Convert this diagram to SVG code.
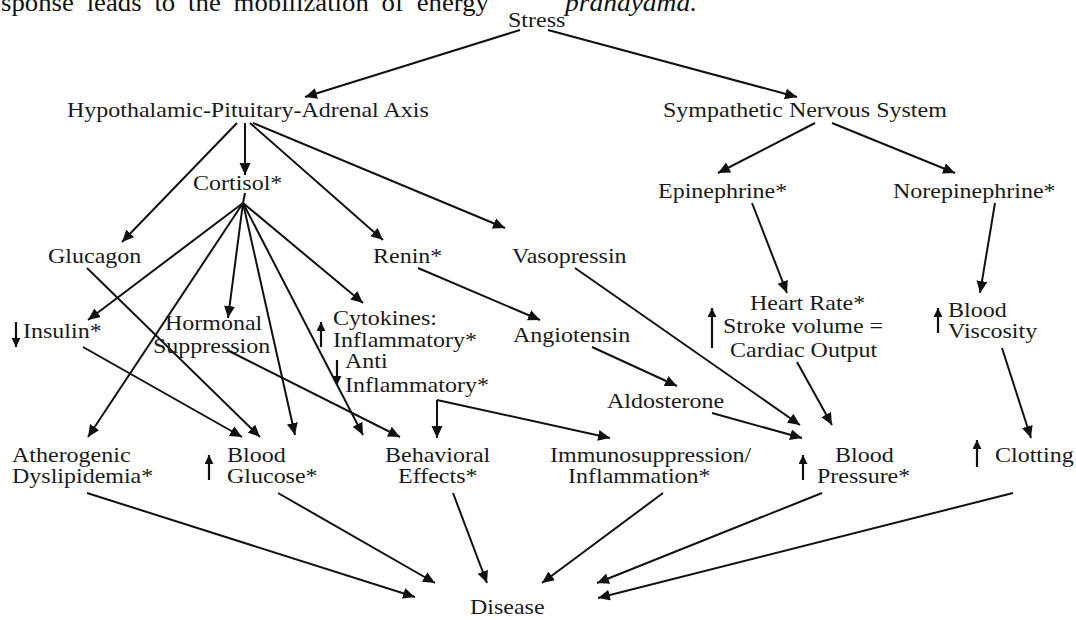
<svg xmlns="http://www.w3.org/2000/svg" width="1076" height="620" viewBox="0 0 1076 620">
<style>
.t{font-family:"Liberation Serif","Times New Roman",serif;font-size:20px;fill:#1a1a1a}
.hdr{font-family:"Liberation Serif","Times New Roman",serif;font-size:26px;fill:#111}
.c{stroke:#111;stroke-width:2;fill:none;marker-end:url(#ah)}
.p{stroke:#111;stroke-width:2;fill:none}
.i{stroke:#111;stroke-width:2.2;fill:none;marker-end:url(#sh)}
</style>
<defs>
<marker id="ah" markerUnits="userSpaceOnUse" markerWidth="13" markerHeight="12" refX="12" refY="5.5" orient="auto"><path d="M0,0 L12,5.5 L0,11 z" fill="#111"/></marker>
<marker id="sh" markerUnits="userSpaceOnUse" markerWidth="10" markerHeight="10" refX="9" refY="4.5" orient="auto"><path d="M0,0 L9,4.5 L0,9 z" fill="#111"/></marker>
</defs>
<rect width="1076" height="620" fill="#fff"/>
<g id="header">
<text class="hdr" x="1" y="11" textLength="488" lengthAdjust="spacingAndGlyphs" word-spacing="6">sponse leads to the mobilization of energy</text>
<text class="hdr" x="565" y="11" font-style="italic" textLength="132" lengthAdjust="spacingAndGlyphs">pranayama.</text>
</g>
<g id="connectors">
<path class="c" d="M520,30 L305,97"/>
<path class="c" d="M548,30 L797,97"/>
<path class="c" d="M237,123 L122,242"/>
<path class="c" d="M245,123 L245,175"/>
<path class="c" d="M250,123 L383,240"/>
<path class="c" d="M253,123 L505,228"/>
<path class="c" d="M815,123 L718,173"/>
<path class="c" d="M832,123 L955,173"/>
<path class="p" d="M245,193 L243,203"/>
<path class="c" d="M243,203 L88,320"/>
<path class="c" d="M243,203 L88,437"/>
<path class="c" d="M243,203 L228,318"/>
<path class="c" d="M243,203 L295,435"/>
<path class="c" d="M243,203 L363,435"/>
<path class="c" d="M243,203 L363,303"/>
<path class="c" d="M87,268 L260,437"/>
<path class="c" d="M83,347 L242,437"/>
<path class="c" d="M227,350 L400,437"/>
<path class="c" d="M418,268 L540,320"/>
<path class="c" d="M575,268 L800,425"/>
<path class="c" d="M592,347 L677,386"/>
<path class="c" d="M712,413 L802,438"/>
<path class="c" d="M752,203 L787,293"/>
<path class="c" d="M995,203 L980,293"/>
<path class="c" d="M797,362 L832,425"/>
<path class="c" d="M1002,348 L1031,438"/>
<path class="c" d="M437,400 L437,438"/>
<path class="c" d="M437,400 L610,438"/>
<path class="c" d="M87,493 L415,597"/>
<path class="c" d="M278,493 L435,583"/>
<path class="c" d="M453,493 L487,583"/>
<path class="c" d="M663,493 L542,583"/>
<path class="c" d="M822,493 L597,583"/>
<path class="c" d="M1013,493 L598,598"/>
</g>
<g id="stress"><text class="t" transform="translate(508 27) scale(1.2 1)">Stress</text></g>
<g id="hpa"><text class="t" transform="translate(67 117) scale(1.2 1)">Hypothalamic-Pituitary-Adrenal Axis</text></g>
<g id="sns"><text class="t" transform="translate(663 117) scale(1.2 1)">Sympathetic Nervous System</text></g>
<g id="cortisol"><text class="t" transform="translate(193 190) scale(1.2 1)">Cortisol*</text></g>
<g id="glucagon"><text class="t" transform="translate(48 263) scale(1.2 1)">Glucagon</text></g>
<g id="renin"><text class="t" transform="translate(373 263) scale(1.2 1)">Renin*</text></g>
<g id="vasopressin"><text class="t" transform="translate(512 263) scale(1.2 1)">Vasopressin</text></g>
<g id="epinephrine"><text class="t" transform="translate(658 198) scale(1.2 1)">Epinephrine*</text></g>
<g id="norepinephrine"><text class="t" transform="translate(893 198) scale(1.2 1)">Norepinephrine*</text></g>
<g id="insulin"><path class="i" d="M16,322 L16,347"/><text class="t" transform="translate(23 338) scale(1.2 1)">Insulin*</text></g>
<g id="hormonal"><text class="t" transform="translate(165 330) scale(1.2 1)">Hormonal</text><text class="t" transform="translate(153 353) scale(1.2 1)">Suppression</text></g>
<g id="cytokines"><path class="i" d="M321,347 L321,322"/><text class="t" transform="translate(333 325) scale(1.2 1)">Cytokines:</text><text class="t" transform="translate(333 347) scale(1.2 1)">Inflammatory*</text><path class="i" d="M337,360 L337,385"/><text class="t" transform="translate(345 368) scale(1.2 1)">Anti</text><text class="t" transform="translate(345 392) scale(1.2 1)">Inflammatory*</text></g>
<g id="angiotensin"><text class="t" transform="translate(513 342) scale(1.2 1)">Angiotensin</text></g>
<g id="aldosterone"><text class="t" transform="translate(607 408) scale(1.2 1)">Aldosterone</text></g>
<g id="cardiac"><path class="i" d="M712,348 L712,308"/><text class="t" transform="translate(750 310) scale(1.2 1)">Heart Rate*</text><text class="t" transform="translate(723 333) scale(1.2 1)">Stroke volume =</text><text class="t" transform="translate(730 357) scale(1.2 1)">Cardiac Output</text></g>
<g id="viscosity"><path class="i" d="M938,333 L938,308"/><text class="t" transform="translate(948 317) scale(1.2 1)">Blood</text><text class="t" transform="translate(948 338) scale(1.2 1)">Viscosity</text></g>
<g id="atherogenic"><text class="t" transform="translate(12 462) scale(1.2 1)">Atherogenic</text><text class="t" transform="translate(12 483) scale(1.2 1)">Dyslipidemia*</text></g>
<g id="glucose"><path class="i" d="M209,480 L209,455"/><text class="t" transform="translate(227 462) scale(1.2 1)">Blood</text><text class="t" transform="translate(227 483) scale(1.2 1)">Glucose*</text></g>
<g id="behavioral"><text class="t" transform="translate(385 462) scale(1.2 1)">Behavioral</text><text class="t" transform="translate(398 483) scale(1.2 1)">Effects*</text></g>
<g id="immuno"><text class="t" transform="translate(550 462) scale(1.2 1)">Immunosuppression/</text><text class="t" transform="translate(568 483) scale(1.2 1)">Inflammation*</text></g>
<g id="pressure"><path class="i" d="M803,480 L803,455"/><text class="t" transform="translate(835 462) scale(1.2 1)">Blood</text><text class="t" transform="translate(817 483) scale(1.2 1)">Pressure*</text></g>
<g id="clotting"><path class="i" d="M977,467 L977,440"/><text class="t" transform="translate(995 462) scale(1.2 1)">Clotting</text></g>
<g id="disease"><text class="t" transform="translate(470 614) scale(1.2 1)">Disease</text></g>
</svg>
